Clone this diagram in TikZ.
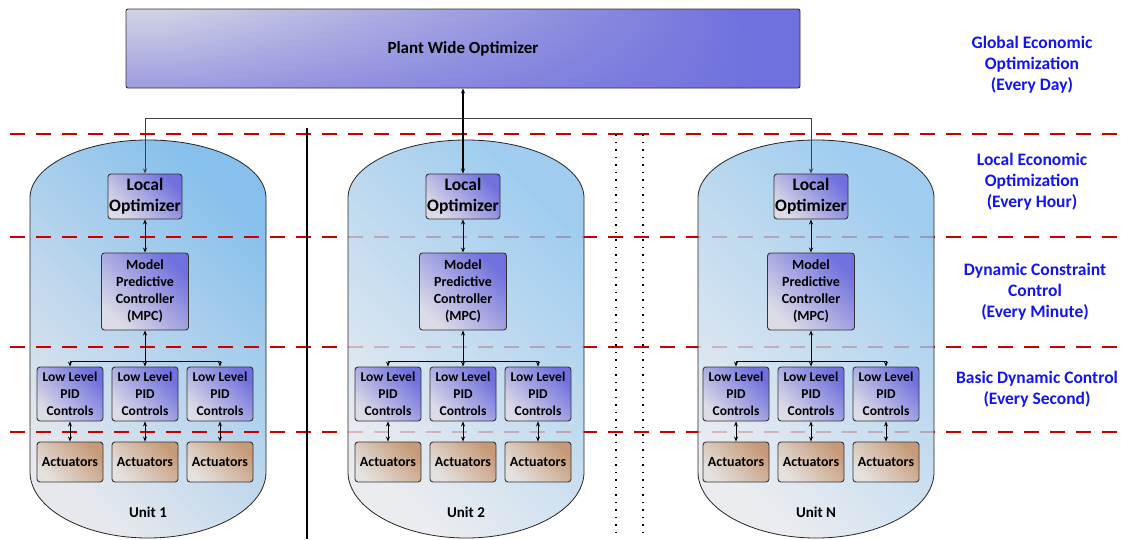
\documentclass[tikz,border=0pt]{standalone}
\usepackage{fontspec}
\setmainfont{Carlito}
\usetikzlibrary{arrows.meta,fadings}
\definecolor{boxlight}{RGB}{220,220,230}
\definecolor{boxdark}{RGB}{112,112,222}
\definecolor{actlight}{RGB}{228,225,222}
\definecolor{actdark}{RGB}{198,154,120}
\definecolor{caplight}{RGB}{230,232,237}
\definecolor{capdark}{RGB}{135,192,236}
\definecolor{redd}{RGB}{200,0,0}
\definecolor{lblblue}{RGB}{20,20,235}
\tikzset{
  pbox/.style={draw=black!80, line width=0.9pt, rounded corners=3pt,
    left color=boxlight, right color=boxdark, shading angle=135,
    inner sep=0pt, align=center},
  abox/.style={draw=black!80, line width=0.9pt, rounded corners=3pt,
    left color=actlight, right color=actdark, shading angle=135,
    inner sep=0pt, align=center, minimum width=66pt, minimum height=40pt,
    font=\fontsize{14}{17}\selectfont\bfseries},
  pidbox/.style={pbox, minimum width=66pt, minimum height=54pt,
    font=\fontsize{13.5}{17}\selectfont\bfseries},
  lobox/.style={pbox, minimum width=74pt, minimum height=45pt,
    font=\fontsize{17.5}{21}\selectfont\bfseries},
  mpcbox/.style={pbox, minimum width=87pt, minimum height=77pt,
    font=\fontsize{14}{17}\selectfont\bfseries},
  lvl/.style={text=lblblue, align=center, font=\fontsize{17.5}{21}\selectfont\bfseries},
  reddash/.style={draw=redd, line width=2pt, dash pattern=on 15pt off 11pt},
  arr/.style={line width=0.9pt, -{Stealth[length=5pt,width=4pt]}},
  darr/.style={line width=0.9pt, {Stealth[length=5pt,width=4pt]}-{Stealth[length=5pt,width=4pt]}},
  capsule/.pic={
    \path[draw=black!85, line width=0.8pt, left color=caplight, right color=capdark,
      shading angle=135, fill opacity=\capop]
      (-118,472) -- (-118,198)
      .. controls (-118,166) and (-65,140) .. (0,140)
      .. controls (65,140) and (118,166) .. (118,198)
      -- (118,472)
      .. controls (118,508) and (65,538) .. (0,538)
      .. controls (-65,538) and (-118,508) .. (-118,472) -- cycle;
  }
}
\begin{document}
\begin{tikzpicture}[x=1pt,y=-1pt]
\useasboundingbox (0,0) rectangle (1129,539);
\fill[white] (0,0) rectangle (1129,539);

% unit 1 capsule (below dashed lines)
\def\capop{1}
\pic at (148,0) {capsule};

% dashed level separators
\foreach \yy in {134,237,347,432}
  \draw[reddash] (10,\yy) -- (1122,\yy);

% units 2 and N (semi transparent over dashed lines)
\def\capop{0.8}
\pic at (466,0) {capsule};
\pic at (816,0) {capsule};

% separators between units
\draw[line width=2pt] (307,128) -- (307,539);
\draw[line width=1.5pt, dash pattern=on 1.5pt off 6pt] (616,134) -- (616,539);
\draw[line width=1.5pt, dash pattern=on 1.5pt off 6pt] (643,134) -- (643,539);

% plant wide optimizer
\node[draw=black!80, line width=0.9pt, rounded corners=2pt,
  left color=boxlight!92!boxdark, right color=boxdark, shading angle=100,
  minimum width=674pt, minimum height=79pt, inner sep=0pt,
  path picture={\fill[boxdark, fill opacity=0.55, path fading=north]
    (path picture bounding box.south west) rectangle (path picture bounding box.north east);},
  font=\fontsize{17}{20}\selectfont\bfseries] (plant) at (463,48.5) {Plant Wide Optimizer};

% level labels
\node[lvl] (l1) at (1032,65) {Global Economic\\Optimization\\(Every Day)};
\node[lvl] (l2) at (1032,182) {Local Economic\\Optimization\\(Every Hour)};
\node[lvl] (l3) at (1035,292) {Dynamic Constraint\\Control\\(Every Minute)};
\node[lvl] (l4) at (1037,389) {Basic Dynamic Control\\(Every Second)};

% units
\foreach \bx/\n/\ux/\lbl in {145/1/148/Unit 1, 463/2/466/Unit 2, 811/3/816/Unit N}{
  \node[lobox] (lo\n) at (\bx,196.5) {Local\\Optimizer};
  \node[mpcbox] (mpc\n) at (\bx,291.5) {Model\\Predictive\\Controller\\(MPC)};
  \foreach \k/\dx in {1/-75,2/0,3/75}{
    \node[pidbox] (pid\n\k) at (\bx+\dx,394) {Low Level\\PID\\Controls};
    \node[abox] (act\n\k) at (\bx+\dx,462) {Actuators};
    \draw[darr] (pid\n\k.south) -- (act\n\k.north);
  }
  \node[font=\fontsize{15}{18}\selectfont\bfseries] (ul\n) at (\ux,512) {\lbl};
  \draw[darr] (lo\n.south) -- (mpc\n.north);
  \draw[darr] (mpc\n.south) -- (pid\n2.north);
  \coordinate (bus\n) at (\bx,361);
  \draw[arr] (bus\n) -| (pid\n1.north);
  \draw[arr] (bus\n) -| (pid\n3.north);
}

% plant to local optimizers
\coordinate (top) at (463,118);
\draw[line width=0.9pt, draw=black!75, -{Stealth[length=5pt,width=4pt]}] (top) -| (lo1.north);
\draw[line width=0.9pt, draw=black!75, -{Stealth[length=5pt,width=4pt]}] (top) -| (lo3.north);
\draw[line width=1.2pt, {Stealth[length=5pt,width=4pt]}-{Stealth[length=5pt,width=4pt]}] (plant.south) -- (lo2.north);
\end{tikzpicture}
\end{document}
